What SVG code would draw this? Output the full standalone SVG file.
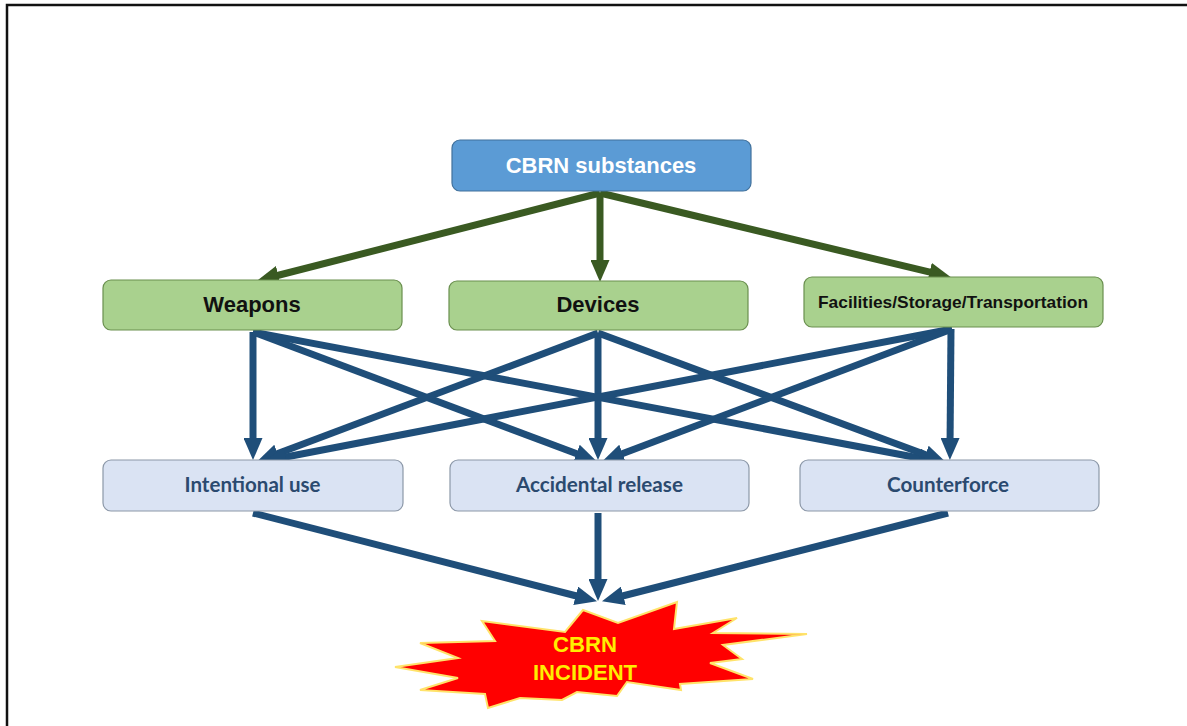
<svg xmlns="http://www.w3.org/2000/svg" width="1187" height="726" viewBox="0 0 1187 726">
  <style>
    .lvl0 { fill: #5b9bd5; stroke: #41719c; stroke-width: 1.2; }
    .lvl1 { fill: #a9d18e; stroke: #6a8f4f; stroke-width: 1.2; }
    .lvl2 { fill: #dae3f3; stroke: #8c98a8; stroke-width: 1.2; }
    .t0 { font-family: "Liberation Sans", Arial, sans-serif; font-weight: bold; font-size: 22px; fill: #ffffff; text-anchor: middle; }
    .t1 { font-family: "Liberation Sans", Arial, sans-serif; font-weight: bold; font-size: 22px; fill: #111111; text-anchor: middle; }
    .t1s { font-family: "Liberation Sans", Arial, sans-serif; font-weight: bold; font-size: 17px; fill: #111111; text-anchor: middle; }
    .t2 { font-family: Lato, "Open Sans", sans-serif; font-weight: bold; font-size: 20px; fill: #2b4a6f; text-anchor: middle; }
    .t3 { font-family: "Liberation Sans", Arial, sans-serif; font-weight: bold; font-size: 22px; fill: #ffee00; text-anchor: middle; }
    .g { stroke: #3a5a22; stroke-width: 7; fill: none; }
    .b { stroke: #1f4e79; stroke-width: 7; fill: none; }
  </style>
  <defs>
    <marker id="ag" markerUnits="userSpaceOnUse" markerWidth="22" markerHeight="19" viewBox="0 0 22 19" refX="9" refY="9.5" orient="auto">
      <path d="M0,0 L22,9.5 L0,19 z" fill="#3a5a22"/>
    </marker>
    <marker id="ab" markerUnits="userSpaceOnUse" markerWidth="22" markerHeight="19" viewBox="0 0 22 19" refX="9" refY="9.5" orient="auto">
      <path d="M0,0 L22,9.5 L0,19 z" fill="#1f4e79"/>
    </marker>
  </defs>
  <rect x="0" y="0" width="1187" height="726" fill="#ffffff"/>
  <rect x="7" y="5" width="1195" height="740" fill="none" stroke="#111111" stroke-width="2.5"/>

  <g id="connectors">
    <line class="g" x1="600" y1="193" x2="269.6" y2="277.5" marker-end="url(#ag)"/>
    <line class="g" x1="600" y1="193" x2="600" y2="269" marker-end="url(#ag)"/>
    <line class="g" x1="600" y1="193" x2="938.3" y2="274.2" marker-end="url(#ag)"/>

    <line class="b" x1="253" y1="332" x2="253" y2="447" marker-end="url(#ab)"/>
    <line class="b" x1="253" y1="332" x2="584.8" y2="456.8" marker-end="url(#ab)"/>
    <line class="b" x1="253" y1="332" x2="928.2" y2="459.8" marker-end="url(#ab)"/>

    <line class="b" x1="598" y1="333" x2="269.2" y2="456.8" marker-end="url(#ab)"/>
    <line class="b" x1="598" y1="333" x2="598" y2="447" marker-end="url(#ab)"/>
    <line class="b" x1="598" y1="333" x2="933.8" y2="457.8" marker-end="url(#ab)"/>

    <line class="b" x1="952" y1="329" x2="276.8" y2="458.7" marker-end="url(#ab)"/>
    <line class="b" x1="952" y1="329" x2="614.2" y2="456.8" marker-end="url(#ab)"/>
    <line class="b" x1="951" y1="329" x2="950" y2="447" marker-end="url(#ab)"/>

    <line class="b" x1="253" y1="513" x2="584.4" y2="598" marker-end="url(#ab)"/>
    <line class="b" x1="598" y1="513" x2="598" y2="588" marker-end="url(#ab)"/>
    <line class="b" x1="948" y1="513" x2="614.6" y2="598" marker-end="url(#ab)"/>
  </g>

  <g id="cbrn-substances">
    <rect class="lvl0" x="452" y="140" width="299" height="51" rx="8"/>
    <text class="t0" x="601" y="173">CBRN substances</text>
  </g>
  <g id="weapons">
    <rect class="lvl1" x="103" y="280" width="299" height="50" rx="8"/>
    <text class="t1" x="252" y="312">Weapons</text>
  </g>
  <g id="devices">
    <rect class="lvl1" x="449" y="281" width="299" height="49" rx="8"/>
    <text class="t1" x="598" y="312">Devices</text>
  </g>
  <g id="facilities">
    <rect class="lvl1" x="804" y="277" width="299" height="50" rx="8"/>
    <text class="t1s" x="953" y="308" textLength="270" lengthAdjust="spacingAndGlyphs">Facilities/Storage/Transportation</text>
  </g>
  <g id="intentional-use">
    <rect class="lvl2" x="103" y="460" width="300" height="51" rx="8"/>
    <text class="t2" x="252.5" y="492" textLength="136" lengthAdjust="spacingAndGlyphs">Intentional use</text>
  </g>
  <g id="accidental-release">
    <rect class="lvl2" x="450" y="460" width="299" height="51" rx="8"/>
    <text class="t2" x="599.5" y="492" textLength="167" lengthAdjust="spacingAndGlyphs">Accidental release</text>
  </g>
  <g id="counterforce">
    <rect class="lvl2" x="800" y="460" width="299" height="51" rx="8"/>
    <text class="t2" x="948" y="492" textLength="122" lengthAdjust="spacingAndGlyphs">Counterforce</text>
  </g>
  <g id="cbrn-incident">
    <polygon points="395,667 458,658 420,643 495,641 482,621 565,632 583,610 618,623 677,602 674,629 737,618 713,633 807,634 723,645 742,659 710,663 753,679 680,684 681,690 627,682 617,696 577,692 562,700 520,698 488,708 485,694 420,690 458,678" fill="#ff0000" stroke="#ffe36a" stroke-width="2" stroke-linejoin="miter"/>
    <text class="t3" x="585" y="652" textLength="64" lengthAdjust="spacingAndGlyphs">CBRN</text>
    <text class="t3" x="585" y="680" textLength="104" lengthAdjust="spacingAndGlyphs">INCIDENT</text>
  </g>
</svg>
